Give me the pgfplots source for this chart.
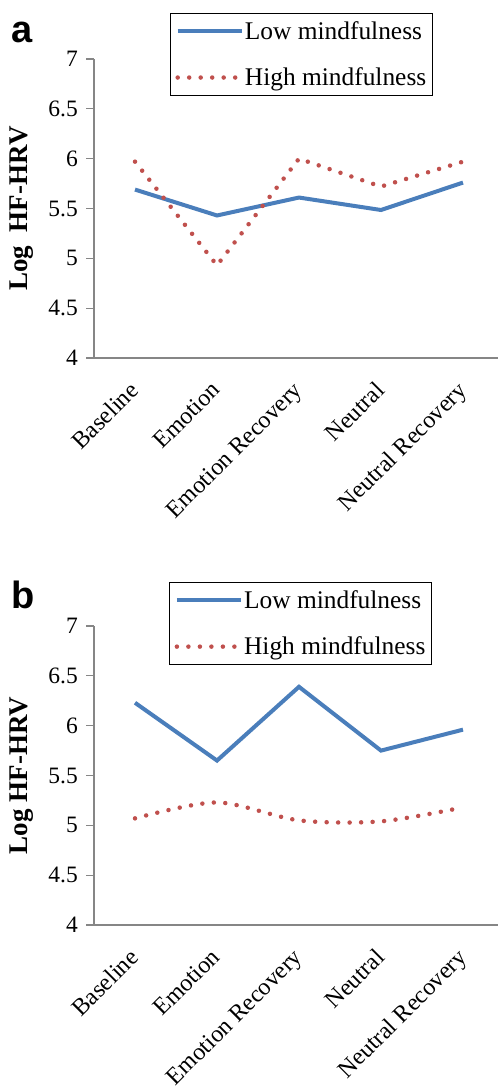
\documentclass[border=0pt]{standalone}
\usepackage{fontspec}
\setmainfont{Liberation Serif}
\newfontfamily\sansfam{Liberation Sans}
\usepackage{pgfplots}
\pgfplotsset{compat=1.18}
\definecolor{lowblue}{HTML}{4A7EBB}
\definecolor{highred}{HTML}{C0504D}
\definecolor{axgray}{HTML}{868686}
\pgfplotsset{
  panel/.style={
    scale only axis, width=404pt, height=299pt,
    xmin=-0.5, xmax=4.427, ymin=4, ymax=7,
    axis lines=left,
    axis line style={axgray, line width=1.2pt, -},
    clip=false,
    /pgf/number format/assume math mode=true,
    xtick={0,1,2,3,4},
    xticklabels={Baseline,Emotion,Emotion Recovery,Neutral,Neutral Recovery},
    xtick style={draw=none},
    extra x ticks={-0.5,0.5,1.5,2.5,3.5},
    extra x tick labels={},
    extra x tick style={tick style={draw=axgray, line width=1.2pt}, major tick length=5pt},
    ytick={4,4.5,5,5.5,6,6.5,7},
    yticklabels={4,4.5,5,5.5,6,6.5,7},
    tick align=outside, major tick length=8pt,
    ytick style={draw=axgray, line width=1.2pt},
    yticklabel style={font=\fontsize{23.5}{27}\selectfont, inner sep=0pt, xshift=-8pt},
    xticklabel style={font=\fontsize{24}{28}\selectfont, inner sep=0pt, xshift=-7pt, yshift=-14pt, rotate=45, anchor=north east},
    ylabel style={font=\fontsize{27}{30}\selectfont\bfseries, at={(axis description cs:-0.178,0.5)}, anchor=center},
    legend cell align=left,
    legend image code/.code={\draw[#1] (0pt,0pt) -- (64pt,0pt);},
    legend style={draw=black, line width=1pt, font=\fontsize{25.4}{29}\selectfont,
      at={(axis description cs:0.188,1.154)}, anchor=north west,
      inner xsep=5pt, inner ysep=7pt, row sep=25pt,
      nodes={inner sep=1pt, anchor=west}},
  }
}
\begin{document}
\begin{tikzpicture}[x=1pt,y=1pt]
\path[use as bounding box] (0,0) rectangle (498,-1091);
\begin{axis}[panel, at={(94pt,-358pt)}, anchor=south west, ylabel={Log\ \ HF-HRV}]
\addplot[lowblue, line width=4pt] coordinates {(0,5.69) (1,5.43) (2,5.61) (3,5.485) (4,5.76)};
\addlegendentry{Low mindfulness}
\addplot[highred, line width=4.5pt, line cap=round, dash pattern=on 0pt off 11.5pt] coordinates {(0,5.97) (1,4.93) (2,6.0) (3,5.72) (4,5.97)};
\addlegendentry{High mindfulness}
\end{axis}
\begin{axis}[panel, at={(94pt,-925pt)}, anchor=south west, ylabel={Log HF-HRV},
  legend style={at={(axis description cs:0.186,1.147)}}]
\addplot[lowblue, line width=4pt] coordinates {(0,6.23) (1,5.65) (2,6.39) (3,5.75) (4,5.96)};
\addlegendentry{Low mindfulness}
\addplot[highred, line width=4.5pt, line cap=round, dash pattern=on 0pt off 11.5pt, smooth, tension=0.5] coordinates {(0,5.07) (1,5.23) (2,5.05) (3,5.04) (4,5.18)};
\addlegendentry{High mindfulness}
\end{axis}
\node[anchor=base west, inner sep=0pt, font=\sansfam\bfseries\fontsize{38}{40}\selectfont] at (11,-43) {a};
\node[anchor=base west, inner sep=0pt, font=\sansfam\bfseries\fontsize{38}{40}\selectfont] at (11,-608) {b};
\end{tikzpicture}
\end{document}
